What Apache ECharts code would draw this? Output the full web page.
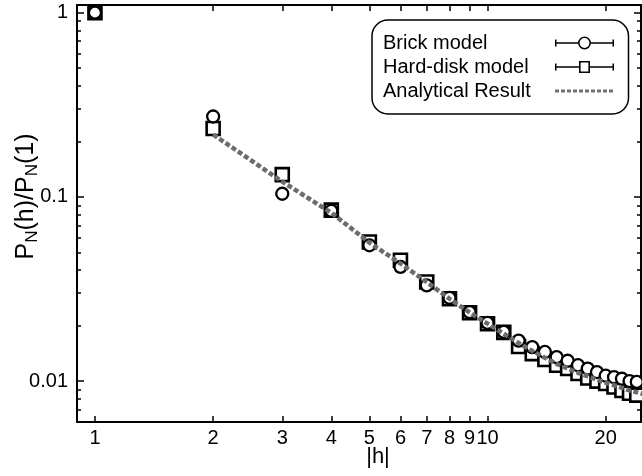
<!DOCTYPE html>
<html>
<head>
<meta charset="utf-8">
<script src="https://cdn.jsdelivr.net/npm/echarts@6/dist/echarts.min.js"></script>
<style>html,body{margin:0;padding:0;background:#fff;}#c{width:642px;height:476px;}</style>
</head>
<body>
<div id="c"></div>
<script>
// ---- data ----
const hValues = [1,2,3,4,5,6,7,8,9,10,11,12,13,14,15,16,17,18,19,20,21,22,23,24];
const brickModel = [1.0,0.273,0.104,0.084,0.0546,0.0417,0.0331,0.0283,0.0237,0.0207,0.0185,0.0166,0.0153,0.0144,0.0135,0.0129,0.0122,0.0117,0.0112,0.0107,0.0105,0.0103,0.0100,0.0099];
const hardDiskModel = [1.0,0.235,0.132,0.0847,0.0569,0.0453,0.0345,0.0280,0.0235,0.0205,0.0184,0.0154,0.0141,0.0131,0.0122,0.0117,0.0110,0.0104,0.0100,0.0097,0.0093,0.0089,0.0086,0.0084];
const analyticH = [2,3,4,5,6,7,8,9,10,11,12,13,14,15,16,17,18,19,20,21,22,23,24,25];
const analyticResult = [0.218,0.121,0.082,0.0565,0.0435,0.0345,0.028,0.0236,0.0205,0.0181,0.0161,0.0146,0.0134,0.0124,0.0117,0.0111,0.0106,0.0102,0.0098,0.0095,0.0092,0.0089,0.0087,0.0085];

const xTicks = [1,2,3,4,5,6,7,8,9,10,20];
const yMajorTicks = [0.01,0.1,1];
const yMinorTicks = [0.007,0.008,0.009,0.02,0.03,0.04,0.05,0.06,0.07,0.08,0.09,0.2,0.3,0.4,0.5,0.6,0.7,0.8,0.9];
const yTickLabels = ['0.01','0.1','1'];

const FONT = '"Liberation Sans", Arial, Helvetica, sans-serif';
const toPairs = (xs, ys) => xs.map((x, i) => [x, ys[i]]);

// legend icons (59 x 13 box): error-bar style line with caps and marker
const BRICK_ICON = 'path://M0,3h1.5v7h-1.5Z M1.5,5.75h21.5v1.5h-21.5Z ' +
  'M23,6.5A6.5,6.5 0 1,1 36,6.5A6.5,6.5 0 1,1 23,6.5Z M24.6,6.5A4.9,4.9 0 1,0 34.4,6.5A4.9,4.9 0 1,0 24.6,6.5Z ' +
  'M36,5.75h21.5v1.5h-21.5Z M57.5,3h1.5v7h-1.5Z';
const HARD_ICON = 'path://M0,3h1.5v7h-1.5Z M1.5,5.75h22.5v1.5h-22.5Z ' +
  'M24,0.5h11v12h-11Z M25.6,2.1v8.8h7.8v-8.8Z ' +
  'M35,5.75h22.5v1.5h-22.5Z M57.5,3h1.5v7h-1.5Z';

const chart = echarts.init(document.getElementById('c'), null, {renderer: 'canvas'});

const X_MIN = 0.9, X_MAX = 24.6, Y_MIN = 0.006, Y_MAX = 1.1;
const axisLineStyle = {show: true, lineStyle: {color: '#000', width: 2}};

const option = {
  backgroundColor: '#fff',
  animation: false,
  textStyle: {fontFamily: FONT},
  grid: {left: 77, top: 5, right: 1, bottom: 54, containLabel: false, outerBoundsMode: 'none'},
  legend: {
    orient: 'vertical', left: 372, top: 20, align: 'right',
    itemWidth: 59, itemHeight: 13, itemGap: 4,
    padding: [13, 13, 13, 11],
    borderColor: '#000', borderWidth: 1.5, borderRadius: 16,
    selectedMode: false,
    formatter: name => '{a|' + name + '}',
    textStyle: {fontSize: 20, color: '#000', fontFamily: FONT, lineHeight: 20,
      rich: {a: {width: 167, align: 'left', fontSize: 20, lineHeight: 20, color: '#000', fontFamily: FONT}}},
    data: [
      {name: 'Brick model', icon: BRICK_ICON, itemStyle: {color: '#000', borderWidth: 0, opacity: 1}},
      {name: 'Hard-disk model', icon: HARD_ICON, itemStyle: {color: '#000', borderWidth: 0, opacity: 1}},
      {name: 'Analytical Result', lineStyle: {color: '#707070', width: 3, opacity: 1, type: [4, 2]},
       itemStyle: {opacity: 0, color: 'transparent', borderWidth: 0}}
    ]
  },
  xAxis: [
    {
      type: 'log', position: 'bottom', min: X_MIN, max: X_MAX, logBase: 10,
      axisLine: axisLineStyle,
      axisTick: {show: true, inside: true, length: 6, customValues: xTicks, lineStyle: {color: '#000', width: 1.5}},
      axisLabel: {show: true, customValues: xTicks, fontSize: 20, color: '#000', margin: 6, fontFamily: FONT,
                  formatter: v => String(v)},
      splitLine: {show: false}, minorTick: {show: false},
      name: '|h|', nameLocation: 'middle', nameGap: 24, nameMoveOverlap: false,
      nameTextStyle: {fontSize: 22, color: '#000', fontFamily: FONT, padding: [0, 0, 0, 38]}
    },
    {
      type: 'log', position: 'top', min: X_MIN, max: X_MAX, logBase: 10,
      axisLine: axisLineStyle,
      axisTick: {show: true, inside: true, length: 6, customValues: xTicks, lineStyle: {color: '#000', width: 1.5}},
      axisLabel: {show: false}, splitLine: {show: false}
    }
  ],
  yAxis: [
    {
      type: 'log', position: 'left', min: Y_MIN, max: Y_MAX, logBase: 10,
      axisLine: axisLineStyle,
      axisTick: {show: true, inside: true, length: 4, customValues: yMinorTicks, lineStyle: {color: '#000', width: 1.5}},
      axisLabel: {show: false}, splitLine: {show: false}
    },
    {
      type: 'log', position: 'left', min: Y_MIN, max: Y_MAX, logBase: 10,
      axisLine: {show: false},
      axisTick: {show: true, inside: true, length: 7, customValues: yMajorTicks, lineStyle: {color: '#000', width: 1.5}},
      axisLabel: {show: true, customValues: yMajorTicks, fontSize: 20, color: '#000', margin: 9, fontFamily: FONT,
                  formatter: v => yTickLabels[yMajorTicks.indexOf(v)] || String(v)},
      splitLine: {show: false},
      name: 'P{s|N}(h)/P{s|N}(1)', nameLocation: 'middle', nameRotate: 90, nameGap: 36, nameMoveOverlap: false,
      nameTextStyle: {fontSize: 25, color: '#000', fontFamily: FONT, lineHeight: 30, padding: [0, 0, 0, 34],
        rich: {s: {fontSize: 17, lineHeight: 17, verticalAlign: 'bottom', color: '#000', fontFamily: FONT}}}
    },
    {
      type: 'log', position: 'right', min: Y_MIN, max: Y_MAX, logBase: 10,
      axisLine: axisLineStyle,
      axisTick: {show: true, inside: true, length: 4, customValues: yMinorTicks, lineStyle: {color: '#000', width: 1.5}},
      axisLabel: {show: false}, splitLine: {show: false}
    },
    {
      type: 'log', position: 'right', min: Y_MIN, max: Y_MAX, logBase: 10,
      axisLine: {show: false},
      axisTick: {show: true, inside: true, length: 7, customValues: yMajorTicks, lineStyle: {color: '#000', width: 1.5}},
      axisLabel: {show: false}, splitLine: {show: false}
    }
  ],
  series: [
    {
      name: 'Hard-disk model', type: 'line', xAxisIndex: 0, yAxisIndex: 0,
      data: toPairs(hValues, hardDiskModel),
      symbol: 'rect', symbolSize: 13, showSymbol: true,
      lineStyle: {width: 0, opacity: 0},
      itemStyle: {color: '#fff', borderColor: '#000', borderWidth: 2.6},
      z: 2
    },
    {
      name: 'Brick model', type: 'line', xAxisIndex: 0, yAxisIndex: 0,
      data: toPairs(hValues, brickModel),
      symbol: 'circle', symbolSize: 12, showSymbol: true,
      lineStyle: {width: 0, opacity: 0},
      itemStyle: {color: '#fff', borderColor: '#000', borderWidth: 2.3},
      z: 3
    },
    {
      name: 'Analytical Result', type: 'line', xAxisIndex: 0, yAxisIndex: 0,
      data: toPairs(analyticH, analyticResult),
      symbol: 'none', showSymbol: false, smooth: false,
      lineStyle: {color: '#6c6c6c', width: 4.5, type: [5, 2.5]},
      itemStyle: {color: '#6c6c6c'},
      z: 4
    }
  ]
};
chart.setOption(option);
</script>
</body>
</html>
